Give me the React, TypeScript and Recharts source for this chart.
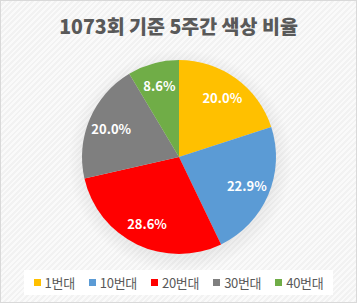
import React from "react";
import { PieChart, Pie, Cell, Legend } from "recharts";

const categories = ["1번대", "10번대", "20번대", "30번대", "40번대"];
const counts = [7, 8, 10, 7, 3];
const percentLabels = ["20.0%", "22.9%", "28.6%", "20.0%", "8.6%"];
const colors = ["#FFC000", "#5B9BD5", "#FF0000", "#7F7F7F", "#70AD47"];

const data = categories.map((name, i) => ({ name, value: counts[i], label: percentLabels[i] }));

const RADIAN = Math.PI / 180;
const FONT = "'Noto Sans CJK KR', 'Noto Sans', sans-serif";

const renderLabel = (props: any) => {
  const { cx, cy, midAngle, outerRadius, index } = props;
  const r = outerRadius * 0.76;
  const x = cx + r * Math.cos(-midAngle * RADIAN);
  const y = cy + r * Math.sin(-midAngle * RADIAN);
  return (
    <text
      x={x}
      y={y}
      fill="#FFFFFF"
      textAnchor="middle"
      dominantBaseline="central"
      fontSize={13}
      fontWeight="bold"
      fontFamily={FONT}
    >
      {data[index].label}
    </text>
  );
};

const renderLegend = () => (
  <div
    style={{
      display: "flex",
      justifyContent: "center",
      alignItems: "center",
      gap: 14,
      height: 25,
      background: "#FFFFFF",
      fontSize: 13,
      color: "#595959",
      fontFamily: FONT,
    }}
  >
    {categories.map((c, i) => (
      <div key={c} style={{ display: "flex", alignItems: "center" }}>
        <span style={{ width: 7, height: 7, background: colors[i], marginRight: 4, display: "inline-block" }} />
        <span style={{ letterSpacing: -0.3 }}>{c}</span>
      </div>
    ))}
  </div>
);

export default function App() {
  return (
    <div
      style={{
        position: "absolute",
        left: 0,
        top: 0,
        width: 357,
        height: 303,
        boxSizing: "border-box",
        border: "1px solid #D9D9D9",
        background:
          "radial-gradient(circle at 179px 160px, rgba(0,0,0,0.10) 0px, rgba(0,0,0,0.06) 95px, rgba(0,0,0,0) 112px), repeating-linear-gradient(-45deg, #F2F2F2 0px, #F2F2F2 2px, #FAFAFA 2px, #FAFAFA 4px)",
        fontFamily: FONT,
      }}
    >
      <div
        style={{
          position: "absolute",
          left: 0,
          top: 11,
          width: 355,
          textAlign: "center",
          fontSize: 19.5,
          fontWeight: 900,
          color: "#595959",
          lineHeight: "28px",
        }}
      >
        1073회 기준 5주간 색상 비율
      </div>
      <div style={{ position: "absolute", left: -1, top: -1 }}>
        <PieChart width={357} height={303}>
          <Pie
            data={data}
            dataKey="value"
            nameKey="name"
            cx={174}
            cy={152}
            outerRadius={97}
            startAngle={90}
            endAngle={-270}
            stroke="none"
            label={renderLabel}
            labelLine={false}
            isAnimationActive={false}
          >
            {data.map((d, i) => (
              <Cell key={d.name} fill={colors[i]} />
            ))}
          </Pie>
          <Legend
            verticalAlign="bottom"
            content={renderLegend}
            wrapperStyle={{ left: 24, width: 309, bottom: 8, height: 25 }}
          />
        </PieChart>
      </div>
    </div>
  );
}
